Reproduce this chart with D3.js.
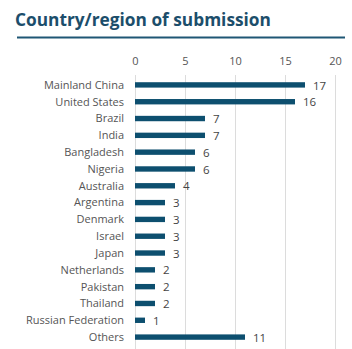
<!DOCTYPE html>
<html><head><meta charset="utf-8">
<script src="https://cdn.jsdelivr.net/npm/d3@7"></script>
<style>
html,body{margin:0;padding:0;background:#fff;}
svg{display:block;font-family:"Open Sans",sans-serif;}
</style></head><body>
<svg id="c" width="352" height="349"></svg>
<script>
const categories = ["Mainland China","United States","Brazil","India","Bangladesh","Nigeria","Australia","Argentina","Denmark","Israel","Japan","Netherlands","Pakistan","Thailand","Russian Federation","Others"];
const values = [17,16,7,7,6,6,4,3,3,3,3,2,2,2,1,11];
const tickValues = [0,5,10,15,20];
const titleText = "Country/region of submission";

const svg = d3.select("#c");
svg.append("text").attr("x",15).attr("y",25.5)
  .attr("font-size",17.3).attr("font-weight",700).attr("fill","#1c4e6b")
  .text(titleText);
svg.append("line").attr("x1",17).attr("x2",345).attr("y1",37.5).attr("y2",37.5)
  .attr("stroke","#1f5775").attr("stroke-width",2);

const x = d3.scaleLinear().domain([0,20]).range([135,335]);
const y = d3.scaleBand().domain(categories).range([76.5,345.5]).paddingInner(0.68).paddingOuter(0.34);

// gridlines
svg.append("g").selectAll("line").data(tickValues).join("line")
  .attr("x1",d=>Math.round(x(d))+0.5).attr("x2",d=>Math.round(x(d))+0.5)
  .attr("y1",75).attr("y2",349).attr("stroke","#dcdcdc").attr("stroke-width",1);

const ax = d3.axisTop(x).tickValues(tickValues).tickSize(0).tickPadding(0);
const gA = svg.append("g").attr("transform","translate(0,65)").call(ax);
gA.select(".domain").remove();
gA.selectAll("text").attr("font-size",11).attr("fill","#555").attr("font-family","Open Sans");

svg.append("g").selectAll("rect").data(values).join("rect")
  .attr("x",x(0)).attr("y",(d,i)=>y(categories[i]))
  .attr("width",d=>x(d)-x(0)).attr("height",y.bandwidth())
  .attr("fill","#0d4f6f");

svg.append("g").selectAll("text").data(categories).join("text")
  .attr("x",124).attr("y",d=>y(d)+y.bandwidth()/2).attr("dy","0.35em")
  .attr("text-anchor","end").attr("font-size",11).attr("fill","#555").text(d=>d);

svg.append("g").selectAll("text").data(values).join("text")
  .attr("x",d=>x(d)+8).attr("y",(d,i)=>y(categories[i])+y.bandwidth()/2).attr("dy","0.4em")
  .attr("font-size",11.5).attr("fill","#444").text(d=>d);
</script></body></html>
